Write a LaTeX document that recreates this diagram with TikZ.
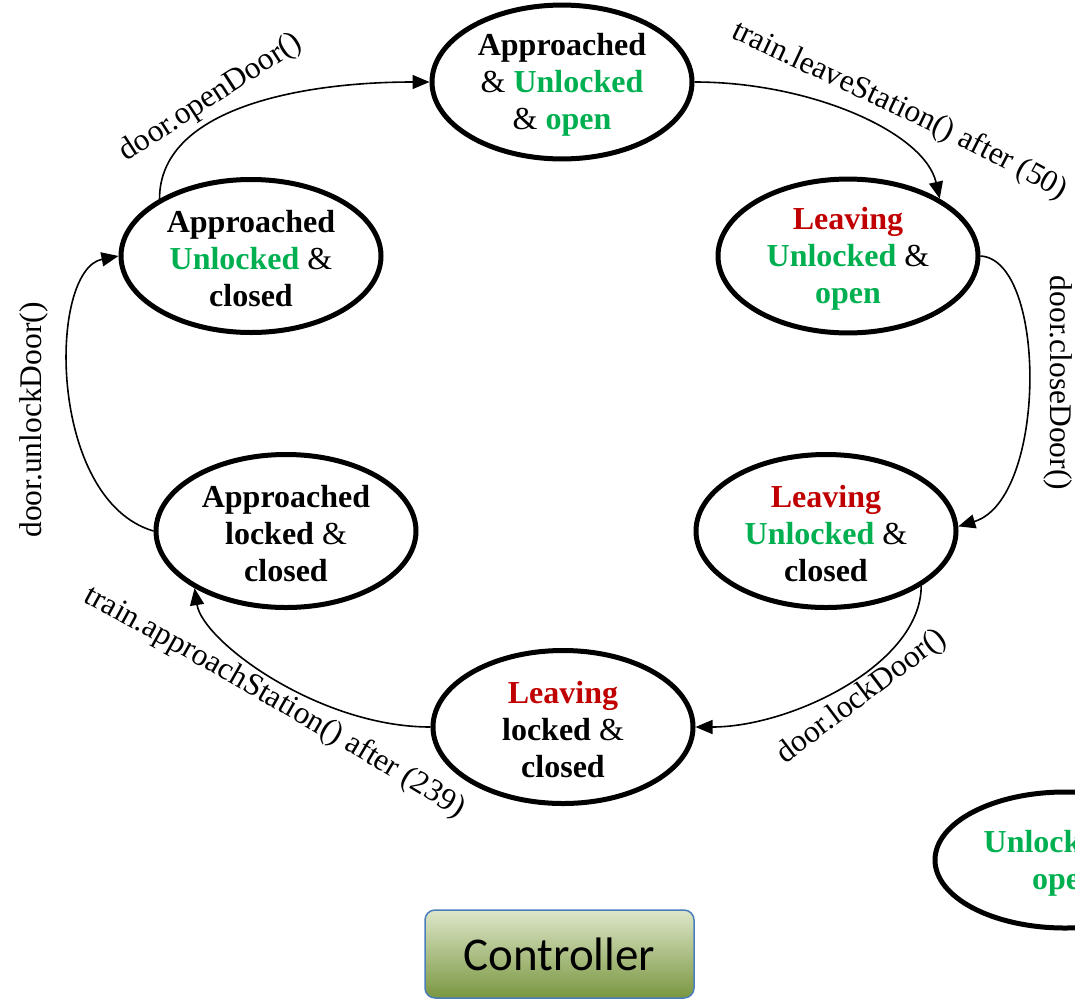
\documentclass[tikz,border=0pt]{standalone}
\usepackage{fontspec}
\setmainfont{Liberation Serif}
\newfontfamily\ctrlfont{Carlito}
\usetikzlibrary{shapes.geometric,arrows.meta,decorations.text}

\definecolor{okgreen}{HTML}{00B050}
\definecolor{stopred}{HTML}{C00000}
\definecolor{boxblue}{HTML}{4A7EBB}
\definecolor{boxtop}{HTML}{DDE7C9}
\definecolor{boxbot}{HTML}{7A9640}

\newcommand{\andsign}{\textmd{\&}}
\newcommand{\lblfont}{\fontsize{31.5}{37}\selectfont}
% taller first line: sets the three text lines a little lower in the ellipse
\newcommand{\toproom}{\rule{0pt}{28pt}}

\tikzset{
  state/.style={ellipse, draw, line width=5pt, minimum width=260pt,
    minimum height=153pt, inner sep=0pt, align=center,
    font=\fontsize{32}{37}\selectfont\bfseries},
  trans/.style={line width=1.6pt, -{Triangle[length=17pt,width=14pt]}},
  lbl/.style={font=\lblfont, inner sep=0pt},
  pathlbl/.style={decorate, decoration={text along path, text align=center,
    text={|\lblfont|#1}}},
  ctrlbox/.style={rectangle, rounded corners=10pt, draw=boxblue,
    line width=1.5pt, top color=boxtop, bottom color=boxbot,
    minimum width=269pt, minimum height=88pt,
    font=\ctrlfont\fontsize{47}{56}\selectfont},
}

\begin{document}
\begin{tikzpicture}[x=1pt,y=-1pt]
\useasboundingbox (0,0) rectangle (1075,1001);

% states of the door controller
\node[state] (s1) at (562,82)
  {\toproom Approached\\ \andsign{} \textcolor{okgreen}{Unlocked}\\ \andsign{} \textcolor{okgreen}{open}};
\node[state] (s2) at (251,256)
  {\toproom Approached\\ \textcolor{okgreen}{Unlocked} \andsign\\ closed};
\node[state] (s3) at (848,256)
  {\toproom\textcolor{stopred}{Leaving}\\ \textcolor{okgreen}{Unlocked} \andsign\\ \textcolor{okgreen}{open}};
\node[state] (s4) at (286,531)
  {\toproom Approached\\ locked \andsign\\ closed};
\node[state] (s5) at (826,531)
  {\toproom\textcolor{stopred}{Leaving}\\ \textcolor{okgreen}{Unlocked} \andsign\\ closed};
\node[state] (s6) at (563,727)
  {\toproom\textcolor{stopred}{Leaving}\\ locked \andsign\\ closed};
\node[state, minimum height=136pt] (s7) at (1065,860)
  {\toproom\textcolor{okgreen}{Unlocked} \andsign\\ \textcolor{okgreen}{open}};

% controller button
\node[ctrlbox] (ctrl) at (559.5,954) {Controller};

% transitions
\draw[trans] (s2.148) .. controls +(0,-90) and +(-130,0) .. (s1.west);
\draw[trans] (s1.east) .. controls +(117,0) and +(-15,-66) .. (s3.32);
\draw[trans] (s3.east) .. controls +(67,4) and +(89,-27) .. (s5.2);
\draw[trans] (s5.-30) .. controls +(0,78) and +(96,0) .. (s6.east);
\draw[trans] (s6.west) .. controls +(-112,0) and +(8,53) .. (s4.212);
\draw[trans] (s4.west) .. controls +(-106,-31) and +(-71,14) .. (s2.west);

% transition labels
\node[lbl, rotate=33] (l1) at (211,98) {door.openDoor()};
\node[lbl, rotate=90] (l2) at (34,420) {door.unlockDoor()};
\node[lbl, rotate=-90] (l3) at (1058,383) {door.closeDoor()};
\node[lbl, rotate=37] (l4) at (862,697) {door.lockDoor()};
\path[pathlbl={train.leaveStation() after (50)}]
  (712,28) .. controls (800,73) and (962,140) .. (1078,210);
\path[pathlbl={train.approachStation() after (239)}]
  (55,586) .. controls (180,653) and (335,742) .. (485,834);
\end{tikzpicture}
\end{document}
